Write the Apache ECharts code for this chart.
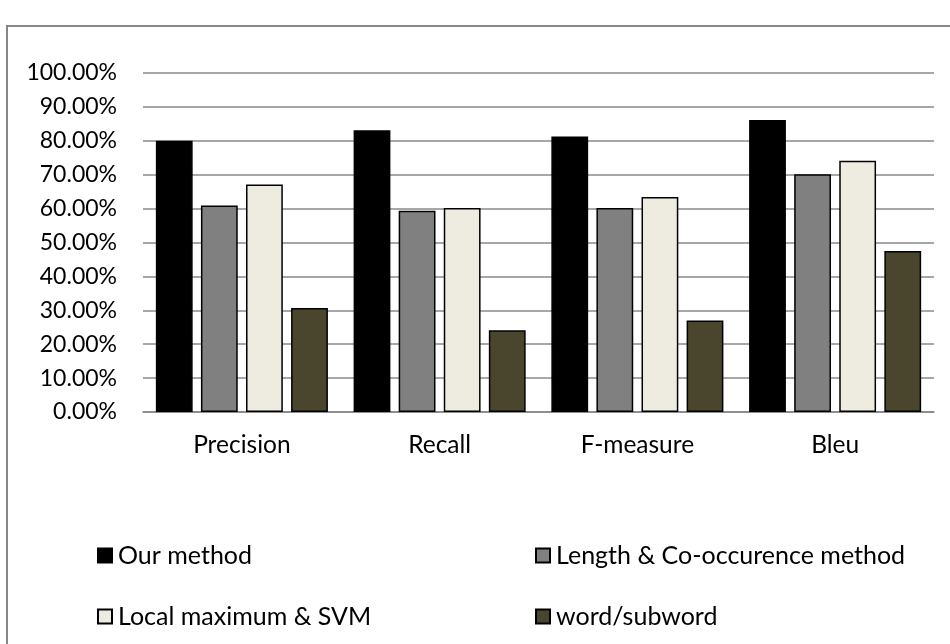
<!DOCTYPE html>
<html>
<head>
<meta charset="utf-8">
<script src="https://cdn.jsdelivr.net/npm/echarts@6/dist/echarts.min.js"></script>
<style>
  html, body { margin: 0; padding: 0; background: #fff; }
  #chart { width: 950px; height: 644px; }
</style>
</head>
<body>
<div id="chart"></div>
<script>
// Evaluation metrics shown along the x axis
const categories = ['Precision', 'Recall', 'F-measure', 'Bleu'];

// Scores per method (fractions, shown as percentages)
const ourMethod      = [0.800, 0.831, 0.813, 0.861];
const lengthCoOccur  = [0.609, 0.594, 0.602, 0.701];
const localMaxSvm    = [0.671, 0.602, 0.634, 0.741];
const wordSubword    = [0.307, 0.241, 0.270, 0.475];

const seriesNames = [
  'Our method',
  'Length & Co-occurence method',
  'Local maximum & SVM',
  'word/subword'
];

// Y axis ticks: 0.00% .. 100.00%
const yMin = 0, yMax = 1, yStep = 0.1;

const FONT = 'Lato';
const fills = ['#000000', '#808080', '#eeebe0', '#4a452d'];
const values = [ourMethod, lengthCoOccur, localMaxSvm, wordSubword];

const chart = echarts.init(document.getElementById('chart'), null, { renderer: 'canvas' });

const series = seriesNames.map((name, i) => ({
  name: name,
  type: 'bar',
  data: values[i],
  barGap: '22.5%',
  barCategoryGap: '13%',
  itemStyle: { color: fills[i], borderColor: '#000', borderWidth: 1.5 },
  emphasis: { disabled: true }
}));

// One legend block per series so each entry sits in its own cell
const legendSpots = [
  { left: 97, top: 543 },
  { left: 535, top: 543 },
  { left: 97, top: 604 },
  { left: 535, top: 604 }
];
const legends = seriesNames.map((name, i) => ({
  data: [name],
  left: legendSpots[i].left,
  top: legendSpots[i].top,
  padding: 0,
  icon: 'rect',
  itemWidth: 14,
  itemHeight: 14,
  itemGap: 0,
  selectedMode: false,
  textStyle: { fontFamily: FONT, fontSize: 25, color: '#000', padding: [0, 0, 0, 1] }
}));

chart.setOption({
  animation: false,
  backgroundColor: '#fff',
  textStyle: { fontFamily: FONT },
  graphic: [{
    type: 'rect',
    shape: { x: 7, y: 26, width: 1000, height: 700 },
    style: { fill: 'none', stroke: '#878787', lineWidth: 2 },
    silent: true
  }],
  legend: legends,
  grid: { left: 143, right: 16, top: 73, bottom: 232, containLabel: false },
  xAxis: {
    type: 'category',
    data: categories,
    axisLine: { show: true, lineStyle: { color: '#868686', width: 1.5 } },
    axisTick: { show: false },
    axisLabel: { fontFamily: FONT, fontSize: 24.5, color: '#000', margin: 21 }
  },
  yAxis: {
    type: 'value',
    min: yMin,
    max: yMax,
    interval: yStep,
    axisLine: { show: false },
    axisTick: { show: false },
    splitLine: { show: true, lineStyle: { color: '#8a8a8a', width: 1.5 } },
    axisLabel: {
      fontFamily: FONT, fontSize: 23, color: '#000', margin: 26,
      formatter: v => (v * 100).toFixed(2) + '%'
    }
  },
  series: series
});
</script>
</body>
</html>
